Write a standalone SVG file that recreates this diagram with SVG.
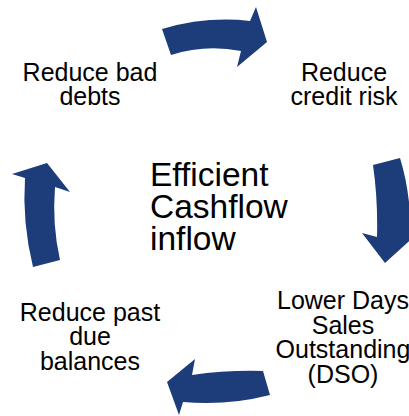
<svg xmlns="http://www.w3.org/2000/svg" width="409" height="416" viewBox="0 0 409 416">
<style>
.arrow{fill:#1d3c7a;}
.lbl{font-family:"Liberation Sans",Arial,sans-serif;font-size:25px;fill:#000;text-anchor:middle;}
.ctr{font-family:"Liberation Sans",Arial,sans-serif;font-size:33.5px;fill:#000;}
</style>
<rect width="409" height="416" fill="#fff"/>
<g id="connectors">
<path class="arrow" d="M162,29 Q206,16 250,21 L256,7 L267,42 L237,67 L241,51 Q205,44 171,55 Z"/>
<path class="arrow" d="M373,165 Q378,200 377,237 L362,233 L385,263 L426,226 L411,232 Q410,190 400,158 Z"/>
<path class="arrow" d="M263,371 Q227,370 192,375 L195,359 L167,382 L179,415 L183,402 Q227,406 270,395 Z"/>
<path class="arrow" d="M33,267 Q22,222 25,178 L12,174 L47,163 L70,192 L55,187 Q52,225 60,260 Z"/>
</g>
<g id="center">
<text class="ctr" x="150" y="186">Efficient</text>
<text class="ctr" x="150" y="218">Cashflow</text>
<text class="ctr" x="150" y="250">inflow</text>
</g>
<g id="node-bad-debts">
<text class="lbl" x="90" y="81">Reduce bad</text>
<text class="lbl" x="90" y="105">debts</text>
</g>
<g id="node-credit-risk">
<text class="lbl" x="344" y="81">Reduce</text>
<text class="lbl" x="344" y="105">credit risk</text>
</g>
<g id="node-dso">
<text class="lbl" x="343" y="309">Lower Days</text>
<text class="lbl" x="343" y="334">Sales</text>
<text class="lbl" x="343" y="358">Outstanding</text>
<text class="lbl" x="343" y="383">(DSO)</text>
</g>
<g id="node-past-due">
<text class="lbl" x="90" y="321">Reduce past</text>
<text class="lbl" x="90" y="345">due</text>
<text class="lbl" x="90" y="370">balances</text>
</g>
</svg>
